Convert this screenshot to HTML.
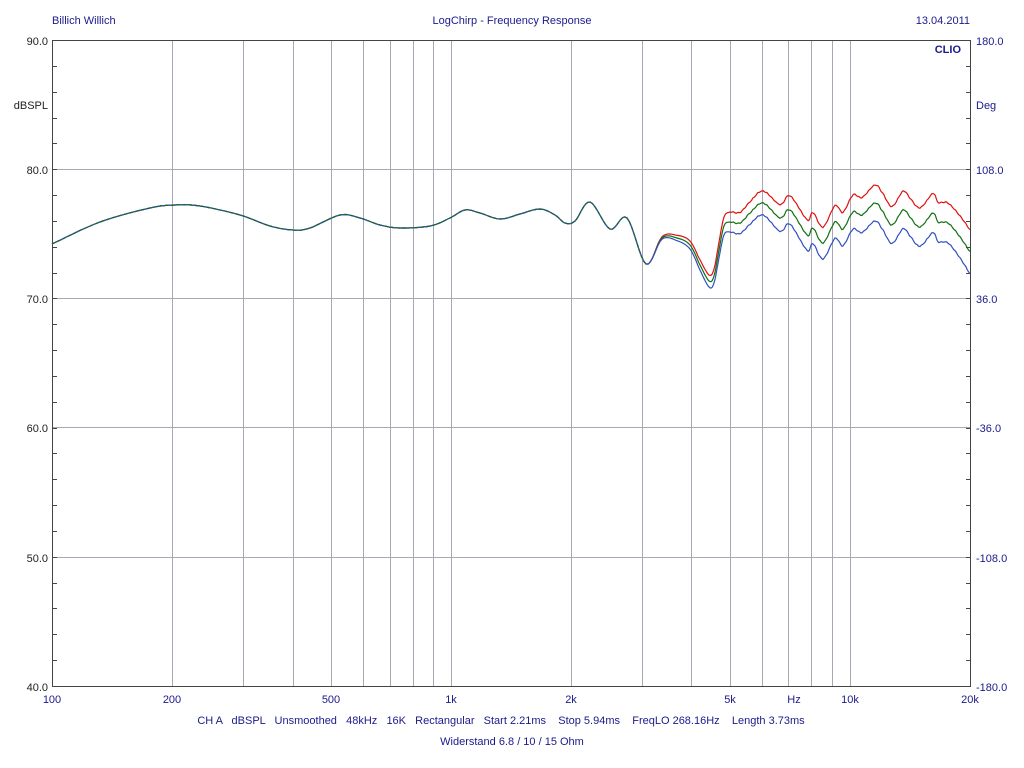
<!DOCTYPE html>
<html><head><meta charset="utf-8"><style>
body{margin:0;background:#fff;width:1024px;height:768px;overflow:hidden}
svg{display:block;font-family:"Liberation Sans",Arial,sans-serif;font-size:11px}
</style></head><body>
<svg id="s" width="1024" height="768" xmlns="http://www.w3.org/2000/svg">
<rect width="1024" height="768" fill="#fff"/>
<g id="grid" stroke="#a8a8b4" stroke-width="1"></g>
<rect x="52.5" y="40.5" width="918" height="646" fill="none" stroke="#444" stroke-width="1"/>
<g id="ticks" stroke="#444" stroke-width="1"></g>
<g id="curves" fill="none" stroke-width="1.2"></g>
<g fill="#1a1a8c">
<text x="52" y="24">Billich Willich</text>
<text x="512" y="24" text-anchor="middle">LogChirp - Frequency Response</text>
<text x="970" y="24" text-anchor="end">13.04.2011</text>
<text x="961" y="53" text-anchor="end" font-weight="bold">CLIO</text>
<text x="976" y="45">180.0</text>
<text x="976" y="109">Deg</text>
<text x="976" y="174">108.0</text>
<text x="976" y="303">36.0</text>
<text x="976" y="432">-36.0</text>
<text x="976" y="562">-108.0</text>
<text x="976" y="691">-180.0</text>
</g>
<g fill="#222" text-anchor="end">
<text x="48" y="45">90.0</text>
<text x="48" y="109">dBSPL</text>
<text x="48" y="174">80.0</text>
<text x="48" y="303">70.0</text>
<text x="48" y="432">60.0</text>
<text x="48" y="562">50.0</text>
<text x="48" y="691">40.0</text>
</g>
<g fill="#1a1a8c" text-anchor="middle">
<text x="52" y="703">100</text>
<text x="172" y="703">200</text>
<text x="331" y="703">500</text>
<text x="451" y="703">1k</text>
<text x="571" y="703">2k</text>
<text x="730" y="703">5k</text>
<text x="794" y="703">Hz</text>
<text x="850" y="703">10k</text>
<text x="970" y="703">20k</text>
<text x="501" y="724" xml:space="preserve">CH A   dBSPL   Unsmoothed   48kHz   16K   Rectangular   Start 2.21ms    Stop 5.94ms    FreqLO 268.16Hz    Length 3.73ms</text>
<text x="512" y="745">Widerstand 6.8 / 10 / 15 Ohm</text>
</g>
</svg>
<script>
var NS="http://www.w3.org/2000/svg";
function el(p,t,a){var e=document.createElementNS(NS,t);for(var k in a)e.setAttribute(k,a[k]);p.appendChild(e);return e;}
var g=document.getElementById('grid'),tk=document.getElementById('ticks'),cv=document.getElementById('curves');
[172,243,293,331,363,390,413,433,451,571,642,691,730,762,788,811,832,850].forEach(function(x){el(g,'line',{x1:x+.5,x2:x+.5,y1:41,y2:686});});
[169,298,427,557].forEach(function(y){el(g,'line',{x1:53,x2:970,y1:y+.5,y2:y+.5});});
for(var i=1;i<25;i++){var y=Math.round(40+i*646/25)+.5;el(tk,'line',{x1:53,x2:57,y1:y,y2:y});el(tk,'line',{x1:966,x2:970,y1:y,y2:y});}
var G=[[52,244],[100,222],[150,208],[175,205],[200,206],[240,215],[270,226],[293,230],[310,228],[340,215],[360,218],[380,225],[400,228],[430,226],[450,218],[465,210],[480,213],[500,219],[520,214],[540,209],[555,215],[565,223],[575,221],[590,202],[610,229],[627,218],[646,264],[662,238],[677,238],[690,245],[700,265],[709,281],[714,276],[719,250],[724,226],[730,222],[740,223],[750,213],[763,203],[780,218],[790,210],[807,235],[813,228],[823,243],[835,222],[843,229],[853,212],[862,215],[875,203],[883,212],[892,225],[903,210],[910,217],[920,227],[933,213],[938,222],[948,223],[960,237],[970,252]];
var K=[[0,0],[650,0],[680,3],[709,6],[730,10],[763,12],[800,15],[875,18],[950,20],[970,22]];
function k(x){for(var i=1;i<K.length;i++)if(x<=K[i][0]){var a=K[i-1],b=K[i];return a[1]+(b[1]-a[1])*(x-a[0])/(b[0]-a[0]);}return 22;}
function path(s,xmax){var d='M'+G[0][0]+','+(G[0][1]+s*k(G[0][0]));for(var i=0;i<G.length-1;i++){var p0=G[Math.max(0,i-1)],p1=G[i],p2=G[i+1],p3=G[Math.min(G.length-1,i+2)];if(xmax&&p1[0]>=xmax)break;for(var t=1;t<=8;t++){var u=t/8,u2=u*u,u3=u2*u;var x=0.5*((2*p1[0])+(-p0[0]+p2[0])*u+(2*p0[0]-5*p1[0]+4*p2[0]-p3[0])*u2+(-p0[0]+3*p1[0]-3*p2[0]+p3[0])*u3);var y=0.5*((2*p1[1])+(-p0[1]+p2[1])*u+(2*p0[1]-5*p1[1]+4*p2[1]-p3[1])*u2+(-p0[1]+3*p1[1]-3*p2[1]+p3[1])*u3);y+=s*k(x)+(x>730?Math.sin(x*1.3)*0.5:0);d+=' L'+x.toFixed(1)+','+y.toFixed(1);}}return d;}
el(cv,'path',{d:path(-1),stroke:'#e01010'});
el(cv,'path',{d:path(0),stroke:'#107010'});
el(cv,'path',{d:path(1),stroke:'#3050c0'});
el(cv,'path',{d:path(0,640),stroke:'#107010','stroke-dasharray':'3 3'});
</script>
</body></html>
